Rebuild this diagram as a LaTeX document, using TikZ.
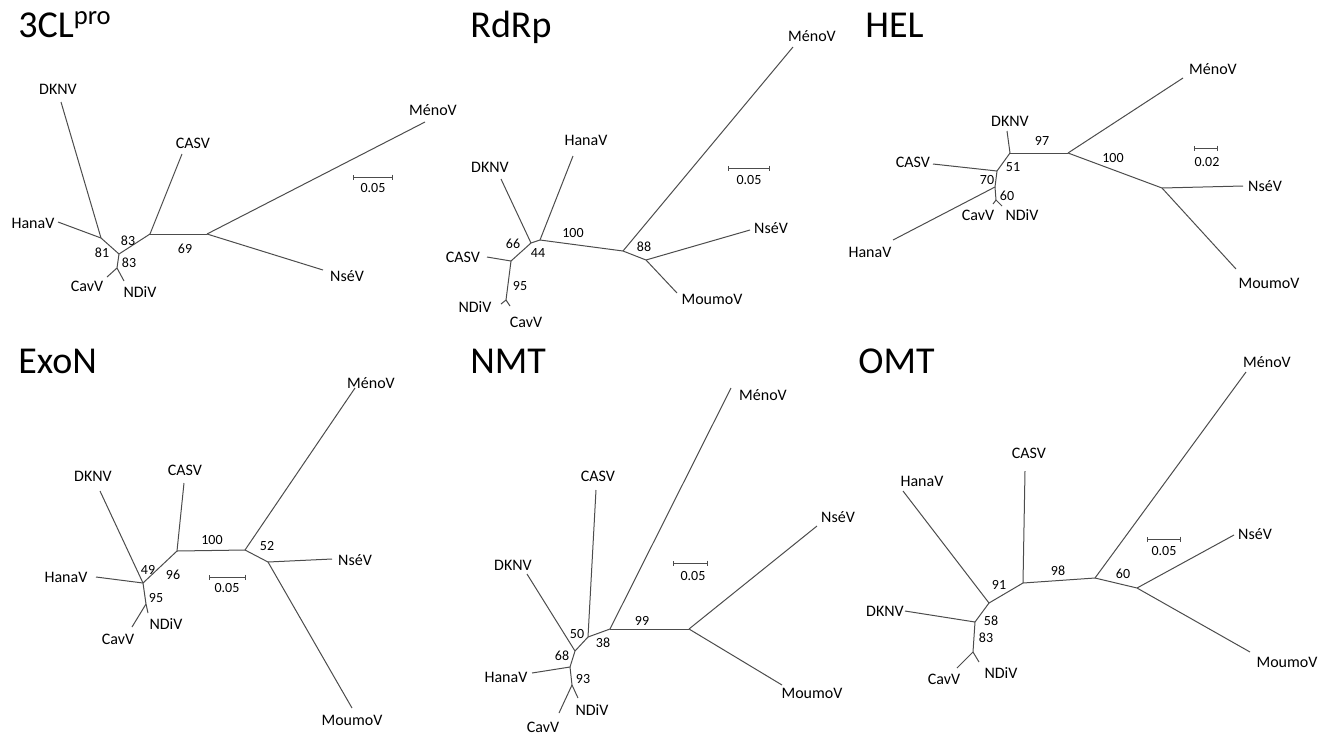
\documentclass[tikz,border=0pt]{standalone}
\usepackage{fontspec}
\setmainfont{Carlito}
\usetikzlibrary{arrows.meta}
\tikzset{
  branch/.style={draw=black!70, line width=0.5pt},
  taxon/.style={font=\fontsize{8}{9}\selectfont, inner sep=0pt},
  boot/.style={font=\fontsize{7}{8}\selectfont, inner sep=0pt},
  genetitle/.style={font=\fontsize{19}{22}\selectfont, anchor=base west, inner sep=0pt},
  scalebar/.style={branch, {Bar[width=2.5pt]}-{Bar[width=2.5pt]}}
}
\begin{document}
\begin{tikzpicture}[x=0.5pt,y=-0.5pt]
  \useasboundingbox (0,0) rectangle (1329,735);

  % 3CLpro
  \node[genetitle] (pT) at (18,37) {3CL\textsuperscript{pro}};
  \coordinate (pa) at (101,238); \coordinate (pb) at (119,254);
  \coordinate (pc) at (150,234); \coordinate (pd) at (117,268);
  \coordinate (pe) at (207,234);
  \foreach \nm/\lx/\ly/\tx/\ty/\txt in {DKNV/58/89/61/102/DKNV, Hana/33/223/58/222/HanaV,
      Cav/87/286/107/277/CavV, NDi/140/292/124/281/NDiV, CAS/193/143/182/154/CASV,
      Meno/433/110/425/122/MénoV, Nse/347/276/323/270/NséV}
  {
    \coordinate (p\nm t) at (\tx,\ty);
    \node[taxon] (p\nm) at (\lx,\ly) {\txt};
  }
  \foreach \a/\b in {pa/pDKNVt, pa/pHanat, pa/pb, pb/pc, pb/pd, pd/pCavt, pd/pNDit,
      pc/pCASt, pc/pe, pe/pMenot, pe/pNset}
    \draw[branch] (\a) -- (\b);
  \node[boot] (pB1) at (102,253) {81};
  \node[boot] (pB2) at (128,241) {83};
  \node[boot] (pB3) at (129,263) {83};
  \node[boot] (pB4) at (185,249) {69};
  \coordinate (pS1) at (353,177); \coordinate (pS2) at (393,177);
  \draw[scalebar] (pS1) -- (pS2);
  \node[boot] (pS) at (373,188) {0.05};

  % RdRp
  \node[genetitle] (qT) at (470,37) {RdRp};
  \coordinate (qa) at (531,243); \coordinate (qb) at (540,240);
  \coordinate (qc) at (511,261); \coordinate (qd) at (506,300);
  \coordinate (qe) at (623,251); \coordinate (qf) at (646,260);
  \foreach \nm/\lx/\ly/\tx/\ty/\txt in {DKNV/490/167/501/179/DKNV, Hana/586/140/573/156/HanaV,
      CAS/463/257/487/257/CASV, NDi/475/307/501/304/NDiV, Cav/526/322/510/306/CavV,
      Meno/812/36/793/47/MénoV, Nse/771/228/750/230/NséV, Moumo/712/299/677/293/MoumoV}
  {
    \coordinate (q\nm t) at (\tx,\ty);
    \node[taxon] (q\nm) at (\lx,\ly) {\txt};
  }
  \foreach \a/\b in {qa/qDKNVt, qa/qb, qb/qHanat, qa/qc, qc/qCASt, qc/qd, qd/qNDit, qd/qCavt,
      qb/qe, qe/qMenot, qe/qf, qf/qNset, qf/qMoumot}
    \draw[branch] (\a) -- (\b);
  \node[boot] (qB1) at (513,244) {66};
  \node[boot] (qB2) at (538,253) {44};
  \node[boot] (qB3) at (573,233) {100};
  \node[boot] (qB4) at (520,286) {95};
  \node[boot] (qB5) at (644,247) {88};
  \coordinate (qS1) at (728,168); \coordinate (qS2) at (770,168);
  \draw[scalebar] (qS1) -- (qS2);
  \node[boot] (qS) at (749,180) {0.05};

  % HEL
  \node[genetitle] (rT) at (865,37) {HEL};
  \coordinate (ra) at (1010,153); \coordinate (rb) at (997,171);
  \coordinate (rc) at (995,187); \coordinate (rd) at (996,200);
  \coordinate (re) at (1068,153); \coordinate (rf) at (1162,188);
  \foreach \nm/\lx/\ly/\tx/\ty/\txt in {DKNV/1010/121/1007/131/DKNV, CAS/913/162/933/164/CASV,
      Hana/870/252/893/240/HanaV, Cav/978/215/993/204/CavV, NDi/1022/215/1002/206/NDiV,
      Meno/1213/69/1183/78/MénoV, Nse/1265/186/1243/186/NséV, Moumo/1269/283/1236/269/MoumoV}
  {
    \coordinate (r\nm t) at (\tx,\ty);
    \node[taxon] (r\nm) at (\lx,\ly) {\txt};
  }
  \foreach \a/\b in {ra/rDKNVt, ra/re, ra/rb, rb/rCASt, rb/rc, rc/rHanat, rc/rd, rd/rCavt,
      rd/rNDit, re/rMenot, re/rf, rf/rNset, rf/rMoumot}
    \draw[branch] (\a) -- (\b);
  \node[boot] (rB1) at (1042,141) {97};
  \node[boot] (rB2) at (1013,167) {51};
  \node[boot] (rB3) at (987,180) {70};
  \node[boot] (rB4) at (1007,196) {60};
  \node[boot] (rB5) at (1113,158) {100};
  \coordinate (rS1) at (1194,148); \coordinate (rS2) at (1218,148);
  \draw[scalebar] (rS1) -- (rS2);
  \node[boot] (rS) at (1207,162) {0.02};

  % ExoN
  \node[genetitle] (sT) at (18,373) {ExoN};
  \coordinate (sa) at (143,583); \coordinate (sb) at (146,604);
  \coordinate (sc) at (177,551); \coordinate (sd) at (245,550);
  \coordinate (se) at (268,562);
  \foreach \nm/\lx/\ly/\tx/\ty/\txt in {DKNV/93/476/100/491/DKNV, Hana/66/577/96/577/HanaV,
      Cav/118/639/132/627/CavV, NDi/166/624/148/613/NDiV, CAS/185/470/184/483/CASV,
      Meno/371/383/355/388/MénoV, Nse/355/560/332/559/NséV, Moumo/352/720/352/708/MoumoV}
  {
    \coordinate (s\nm t) at (\tx,\ty);
    \node[taxon] (s\nm) at (\lx,\ly) {\txt};
  }
  \foreach \a/\b in {sa/sDKNVt, sa/sHanat, sa/sb, sa/sc, sb/sCavt, sb/sNDit, sc/sCASt, sc/sd,
      sd/sMenot, sd/se, se/sNset, se/sMoumot}
    \draw[branch] (\a) -- (\b);
  \node[boot] (sB1) at (148,570) {49};
  \node[boot] (sB2) at (173,575) {96};
  \node[boot] (sB3) at (156,598) {95};
  \node[boot] (sB4) at (212,540) {100};
  \node[boot] (sB5) at (267,546) {52};
  \coordinate (sS1) at (209,577); \coordinate (sS2) at (246,577);
  \draw[scalebar] (sS1) -- (sS2);
  \node[boot] (sS) at (227,588) {0.05};

  % NMT
  \node[genetitle] (tT) at (470,373) {NMT};
  \coordinate (ta) at (575,651); \coordinate (tb) at (588,637);
  \coordinate (tc) at (610,629); \coordinate (td) at (689,629);
  \coordinate (te) at (570,667); \coordinate (tf) at (572,685);
  \foreach \nm/\lx/\ly/\tx/\ty/\txt in {CAS/598/476/596/490/CASV, DKNV/513/565/527/574/DKNV,
      Meno/763/395/731/388/MénoV, Hana/506/677/532/673/HanaV, Cav/543/727/559/713/CavV,
      NDi/592/710/578/698/NDiV, Nse/838/517/817/526/NséV, Moumo/812/693/782/685/MoumoV}
  {
    \coordinate (t\nm t) at (\tx,\ty);
    \node[taxon] (t\nm) at (\lx,\ly) {\txt};
  }
  \foreach \a/\b in {ta/tDKNVt, ta/tb, tb/tCASt, tb/tc, tc/tMenot, tc/td, td/tNset, td/tMoumot,
      ta/te, te/tHanat, te/tf, tf/tCavt, tf/tNDit}
    \draw[branch] (\a) -- (\b);
  \node[boot] (tB1) at (577,634) {50};
  \node[boot] (tB2) at (603,643) {38};
  \node[boot] (tB3) at (642,621) {99};
  \node[boot] (tB4) at (562,656) {68};
  \node[boot] (tB5) at (583,679) {93};
  \coordinate (tS1) at (673,563); \coordinate (tS2) at (708,563);
  \draw[scalebar] (tS1) -- (tS2);
  \node[boot] (tS) at (693,576) {0.05};

  % OMT
  \node[genetitle] (uT) at (858,373) {OMT};
  \coordinate (ua) at (989,603); \coordinate (ub) at (1023,583);
  \coordinate (uc) at (1095,578); \coordinate (ud) at (975,622);
  \coordinate (ue) at (973,652); \coordinate (uf) at (1137,588);
  \foreach \nm/\lx/\ly/\tx/\ty/\txt in {CAS/1029/453/1025/471/CASV, Hana/922/481/903/491/HanaV,
      DKNV/885/611/905/611/DKNV, Cav/944/679/957/668/CavV, NDi/1001/673/979/662/NDiV,
      Meno/1267/362/1246/372/MénoV, Nse/1255/534/1234/535/NséV, Moumo/1287/662/1250/652/MoumoV}
  {
    \coordinate (u\nm t) at (\tx,\ty);
    \node[taxon] (u\nm) at (\lx,\ly) {\txt};
  }
  \foreach \a/\b in {ua/uHanat, ua/ub, ub/uCASt, ub/uc, uc/uMenot, uc/uf, uf/uNset, uf/uMoumot,
      ua/ud, ud/uDKNVt, ud/ue, ue/uCavt, ue/uNDit}
    \draw[branch] (\a) -- (\b);
  \node[boot] (uB1) at (999,585) {91};
  \node[boot] (uB2) at (1058,571) {98};
  \node[boot] (uB3) at (1123,574) {60};
  \node[boot] (uB4) at (991,621) {58};
  \node[boot] (uB5) at (986,638) {83};
  \coordinate (uS1) at (1147,539); \coordinate (uS2) at (1181,539);
  \draw[scalebar] (uS1) -- (uS2);
  \node[boot] (uS) at (1164,551) {0.05};
\end{tikzpicture}
\end{document}
